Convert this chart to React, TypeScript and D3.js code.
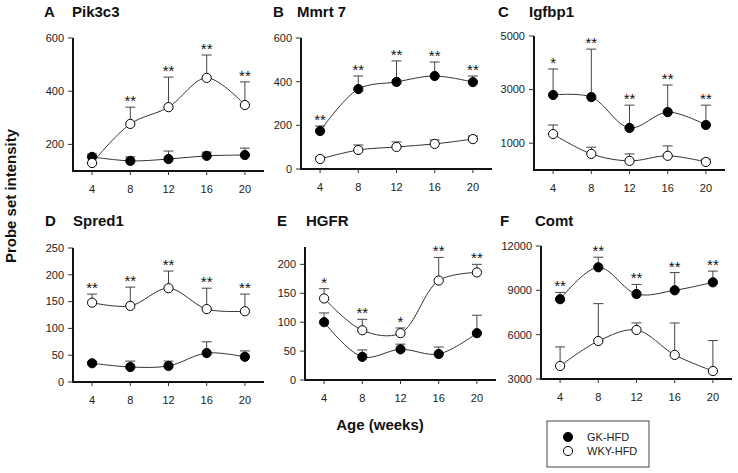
import React from "react";
import * as d3 from "d3";

const weeks = [4, 8, 12, 16, 20];

const panelLetters = ["A", "B", "C", "D", "E", "F"];
const panelGenes = ["Pik3c3", "Mmrt 7", "Igfbp1", "Spred1", "HGFR", "Comt"];

const yDomains: [number, number][] = [
  [100, 600],
  [0, 600],
  [0, 5000],
  [0, 250],
  [0, 230],
  [3000, 12000],
];
const yTicks = [
  [200, 400, 600],
  [0, 200, 400, 600],
  [1000, 3000, 5000],
  [0, 50, 100, 150, 200, 250],
  [0, 50, 100, 150, 200],
  [3000, 6000, 9000, 12000],
];

const gkMean = [
  [153, 138, 145, 157, 160],
  [174, 366, 399, 426, 398],
  [2800, 2720, 1570, 2160, 1680],
  [35, 28, 30, 54, 47],
  [100, 40, 53, 45, 81],
  [8400, 10560, 8750, 9000, 9540],
];
const gkSD = [
  [11, 15, 30, 14, 26],
  [23, 60, 96, 64, 28],
  [970, 1790, 850, 1010, 740],
  [3, 11, 9, 21, 11],
  [16, 12, 9, 12, 31],
  [460, 680, 650, 1200, 760],
];
const wkyMean = [
  [130, 277, 340, 450, 348],
  [46, 87, 101, 115, 137],
  [1340, 600, 340, 530, 300],
  [148, 142, 175, 136, 132],
  [141, 86, 81, 172, 186],
  [3880, 5570, 6320, 4630, 3540],
];
const wkySD = [
  [0, 63, 113, 86, 87],
  [8, 23, 23, 18, 14],
  [340, 250, 260, 370, 100],
  [16, 35, 32, 39, 32],
  [17, 19, 9, 40, 14],
  [1290, 2530, 470, 2160, 2060],
];
const stars = [
  ["", "**", "**", "**", "**"],
  ["**", "**", "**", "**", "**"],
  ["*", "**", "**", "**", "**"],
  ["**", "**", "**", "**", "**"],
  ["*", "**", "*", "**", "**"],
  ["**", "**", "**", "**", "**"],
];

const legendLabels = ["GK-HFD", "WKY-HFD"];

// layout (pixel positions, not data)
const layout = [
  { ax: 73, y0: 171, y1: 38, lx: 44, gx: 72, ty: 17 },
  { ax: 301, y0: 169, y1: 38, lx: 273, gx: 297, ty: 17 },
  { ax: 534, y0: 170, y1: 36, lx: 498, gx: 529, ty: 17 },
  { ax: 73, y0: 382, y1: 248, lx: 45, gx: 73, ty: 226 },
  { ax: 305, y0: 380, y1: 247, lx: 277, gx: 306, ty: 226 },
  { ax: 541, y0: 379, y1: 246, lx: 500, gx: 535, ty: 226 },
];

const FONT = "'Liberation Sans', Arial, Helvetica, sans-serif";
const R = 4.6;

function Panel({ i }: { i: number }) {
  const L = layout[i];
  const x = d3.scaleLinear().domain([2, 22]).range([L.ax, L.ax + 191]);
  const y = d3.scaleLinear().domain(yDomains[i]).range([L.y0, L.y1]);
  const line = d3
    .line<number>()
    .x((_, k) => x(weeks[k]))
    .y((v) => y(v))
    .curve(d3.curveCatmullRom.alpha(0.5));

  const series = [
    { mean: gkMean[i], sd: gkSD[i], fill: "#000" },
    { mean: wkyMean[i], sd: wkySD[i], fill: "#fff" },
  ];

  return (
    <g>
      <text x={L.lx} y={L.ty} fontFamily={FONT} fontWeight="bold" fontSize={15} fill="#111">
        {panelLetters[i]}
      </text>
      <text x={L.gx} y={L.ty} fontFamily={FONT} fontWeight="bold" fontSize={15} fill="#111">
        {panelGenes[i]}
      </text>
      {/* axes */}
      <line x1={L.ax} x2={L.ax} y1={L.y1} y2={L.y0 + 1} stroke="#111" strokeWidth={2} />
      <line x1={L.ax - 1} x2={x(22)} y1={L.y0} y2={L.y0} stroke="#111" strokeWidth={2} />
      {yTicks[i].map((t) => (
        <g key={t}>
          <line x1={L.ax - 5} x2={L.ax} y1={y(t)} y2={y(t)} stroke="#333" strokeWidth={1} />
          <text
            x={L.ax - 9}
            y={y(t)}
            dy="0.35em"
            textAnchor="end"
            fontFamily={FONT}
            fontSize={11}
            fill="#222"
          >
            {t}
          </text>
        </g>
      ))}
      {weeks.map((w) => (
        <g key={w}>
          <line x1={x(w)} x2={x(w)} y1={L.y0} y2={L.y0 + 4} stroke="#333" strokeWidth={1} />
          <text
            x={x(w)}
            y={L.y0 + 22}
            textAnchor="middle"
            fontFamily={FONT}
            fontSize={11}
            fill="#222"
          >
            {w}
          </text>
        </g>
      ))}
      {/* lines */}
      {series.map((s, si) => (
        <path key={si} d={line(s.mean) || ""} fill="none" stroke="#333" strokeWidth={1} />
      ))}
      {/* error bars */}
      {series.map((s, si) =>
        s.mean.map((m, k) =>
          s.sd[k] > 0 ? (
            <g key={`${si}-${k}`}>
              <line x1={x(weeks[k])} x2={x(weeks[k])} y1={y(m)} y2={y(m + s.sd[k])} stroke="#444" strokeWidth={1} />
              <line
                x1={x(weeks[k]) - 5}
                x2={x(weeks[k]) + 5}
                y1={y(m + s.sd[k])}
                y2={y(m + s.sd[k])}
                stroke="#444"
                strokeWidth={1}
              />
            </g>
          ) : null
        )
      )}
      {/* markers */}
      {series.map((s, si) =>
        s.mean.map((m, k) => (
          <circle
            key={`${si}-${k}`}
            cx={x(weeks[k])}
            cy={y(m)}
            r={R}
            fill={s.fill}
            stroke="#000"
            strokeWidth={1}
          />
        ))
      )}
      {/* significance */}
      {weeks.map((w, k) => {
        const top = Math.min(
          y(gkMean[i][k] + gkSD[i][k]),
          y(wkyMean[i][k] + wkySD[i][k]),
          y(gkMean[i][k]) - R,
          y(wkyMean[i][k]) - R
        );
        return (
          <text
            key={w}
            x={x(w)}
            y={top - 1}
            textAnchor="middle"
            fontFamily={FONT}
            fontSize={15}
            fill="#111"
            style={{ WebkitFontSmoothing: "antialiased" } as any}
          >
            {stars[i][k]}
          </text>
        );
      })}
    </g>
  );
}

export default function App() {
  return (
    <svg width={738} height={473} style={{ position: "absolute", left: 0, top: 0, background: "#fff" }}>
      <rect x={0} y={0} width={738} height={473} fill="#fff" />
      {[0, 1, 2, 3, 4, 5].map((i) => (
        <Panel key={i} i={i} />
      ))}
      <text
        transform="translate(16,196) rotate(-90)"
        textAnchor="middle"
        fontFamily={FONT}
        fontWeight="bold"
        fontSize={15}
        fill="#111"
      >
        Probe set intensity
      </text>
      <text x={380} y={430} textAnchor="middle" fontFamily={FONT} fontWeight="bold" fontSize={15} fill="#111">
        Age (weeks)
      </text>
      <rect x={547} y={421} width={102} height={46} fill="#fff" stroke="#444" strokeWidth={1} />
      <circle cx={568} cy={437} r={R} fill="#000" stroke="#000" />
      <circle cx={568} cy={451} r={R} fill="#fff" stroke="#000" />
      <text x={587} y={441} fontFamily={FONT} fontSize={11} fill="#222">
        {legendLabels[0]}
      </text>
      <text x={587} y={455} fontFamily={FONT} fontSize={11} fill="#222">
        {legendLabels[1]}
      </text>
    </svg>
  );
}
